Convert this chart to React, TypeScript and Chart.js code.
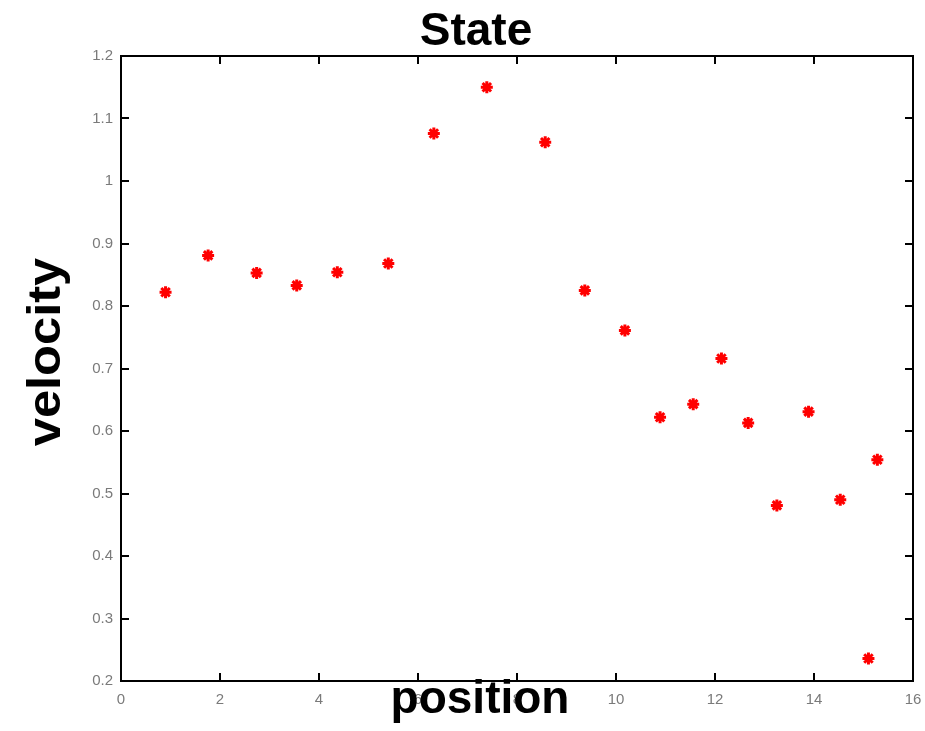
import React, { useEffect, useRef } from "react";
import { Chart, registerables } from "chart.js";

Chart.register(...registerables);

const positions = [0.9, 1.76, 2.74, 3.55, 4.37, 5.4, 6.32, 7.39, 8.57, 9.37, 10.18, 10.89, 11.56, 12.13, 12.67, 13.25, 13.89, 14.53, 15.1, 15.28];
const velocities = [0.822, 0.881, 0.853, 0.833, 0.854, 0.868, 1.076, 1.15, 1.062, 0.825, 0.761, 0.622, 0.643, 0.716, 0.613, 0.481, 0.631, 0.49, 0.236, 0.554];
const xTicks = [0, 2, 4, 6, 8, 10, 12, 14, 16];
const yTicks = [0.2, 0.3, 0.4, 0.5, 0.6, 0.7, 0.8, 0.9, 1, 1.1, 1.2];
const titleText = "State";
const xTitle = "position";
const yTitle = "velocity";

const FONT = "'Liberation Sans', Arial, Helvetica, sans-serif";

const boxPlugin = {
  id: "matlabBox",
  afterDraw(chart: any) {
    const { ctx, chartArea: a, scales } = chart;
    const xs = scales.x;
    const ys = scales.y;
    ctx.save();
    ctx.strokeStyle = "#000";
    ctx.lineWidth = 2;
    ctx.strokeRect(a.left, a.top, a.right - a.left, a.bottom - a.top);
    const L = 8;
    ctx.beginPath();
    xTicks.forEach((v) => {
      const px = Math.round(xs.getPixelForValue(v));
      ctx.moveTo(px, a.bottom);
      ctx.lineTo(px, a.bottom - L);
      ctx.moveTo(px, a.top);
      ctx.lineTo(px, a.top + L);
    });
    yTicks.forEach((v) => {
      const py = Math.round(ys.getPixelForValue(v));
      ctx.moveTo(a.left, py);
      ctx.lineTo(a.left + L, py);
      ctx.moveTo(a.right, py);
      ctx.lineTo(a.right - L, py);
    });
    ctx.stroke();

    ctx.fillStyle = "#000";
    ctx.textAlign = "center";
    ctx.textBaseline = "alphabetic";
    ctx.font = `bold 46px ${FONT}`;
    ctx.fillText(titleText, 476, 45);
    ctx.fillText(xTitle, 480, 713);
    ctx.save();
    ctx.translate(60, 352);
    ctx.rotate(-Math.PI / 2);
    ctx.scale(1.1, 1);
    ctx.font = `bold 46px ${FONT}`;
    ctx.fillText(yTitle, 0, 0);
    ctx.restore();
    ctx.restore();
  },
};

export default function App() {
  const ref = useRef<HTMLCanvasElement | null>(null);
  useEffect(() => {
    if (!ref.current) return;
    const chart = new Chart(ref.current, {
      type: "scatter",
      data: {
        datasets: [
          {
            label: "state",
            data: positions.map((x, i) => ({ x, y: velocities[i] })),
            pointStyle: "star",
            radius: 6,
            borderWidth: 3,
            borderColor: "#ff0000",
            backgroundColor: "#ff0000",
          },
        ],
      },
      options: {
        animation: false,
        responsive: true,
        maintainAspectRatio: false,
        layout: { padding: { top: 56, right: 12, bottom: 0, left: 0 } },
        plugins: { legend: { display: false }, tooltip: { enabled: false }, title: { display: false } },
        scales: {
          x: {
            type: "linear",
            min: 0,
            max: 16,
            afterBuildTicks: (s: any) => {
              s.ticks = xTicks.map((v) => ({ value: v }));
            },
            afterFit: (s: any) => {
              s.height = 50;
              s.paddingLeft = 0;
              s.paddingRight = 0;
            },
            grid: { display: false, drawTicks: false, tickLength: 0 },
            border: { display: false },
            ticks: {
              color: "#7a7a7a",
              font: { family: FONT, size: 15 },
              padding: 10,
              maxRotation: 0,
              callback: (v: any) => String(v),
            },
          },
          y: {
            type: "linear",
            min: 0.2,
            max: 1.2,
            afterBuildTicks: (s: any) => {
              s.ticks = yTicks.map((v) => ({ value: v }));
            },
            afterFit: (s: any) => {
              s.width = 121;
              s.paddingTop = 0;
              s.paddingBottom = 0;
            },
            grid: { display: false, drawTicks: false, tickLength: 0 },
            border: { display: false },
            ticks: {
              color: "#7a7a7a",
              font: { family: FONT, size: 15 },
              padding: 8,
              callback: (v: any) => String(Math.round(v * 10) / 10),
            },
          },
        },
      },
      plugins: [boxPlugin],
    });
    return () => chart.destroy();
  }, []);
  return (
    <div style={{ position: "fixed", left: 0, top: 0, width: 925, height: 731, background: "#fff" }}>
      <canvas ref={ref} />
    </div>
  );
}
